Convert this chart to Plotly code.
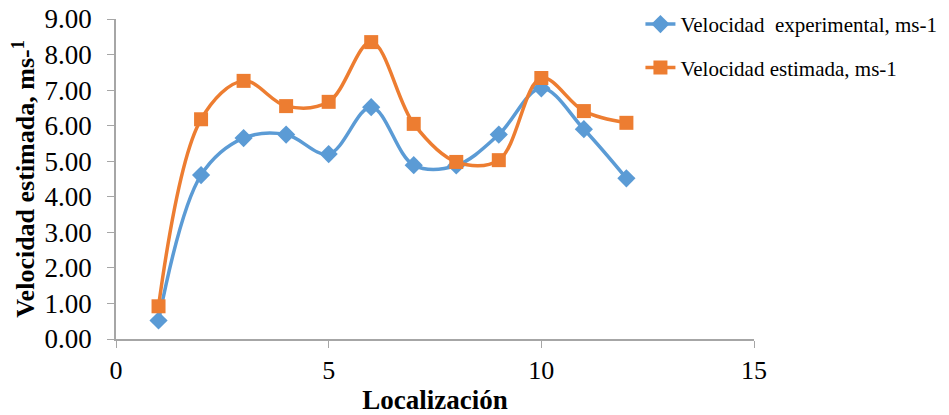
import plotly.graph_objects as go

localizacion = [1, 2, 3, 4, 5, 6, 7, 8, 9, 10, 11, 12]
vel_experimental = [0.52, 4.61, 5.65, 5.75, 5.20, 6.52, 4.89, 4.88, 5.75, 7.05, 5.90, 4.52]
vel_estimada = [0.92, 6.18, 7.26, 6.55, 6.67, 8.35, 6.05, 4.98, 5.03, 7.34, 6.41, 6.08]

x_ticks = [0, 5, 10, 15]
y_ticks = [0, 1, 2, 3, 4, 5, 6, 7, 8, 9]

BLUE = "#5B9BD5"
ORANGE = "#ED7D31"
FONT = "Liberation Serif, Times New Roman, serif"

fig = go.Figure()
fig.add_trace(go.Scatter(
    x=localizacion, y=vel_experimental, mode="lines+markers",
    name="Velocidad  experimental, ms-1", legendgroup="a",
    line=dict(color=BLUE, width=3.5, shape="spline", smoothing=1.0),
    marker=dict(symbol="diamond", size=14, color=BLUE),
))
fig.add_trace(go.Scatter(
    x=localizacion, y=vel_estimada, mode="lines+markers",
    name="Velocidad estimada, ms-1", legendgroup="b",
    line=dict(color=ORANGE, width=3.5, shape="spline", smoothing=1.0),
    marker=dict(symbol="square", size=14, color=ORANGE),
))

fig.update_layout(
    width=949, height=415,
    margin=dict(l=116, r=195, t=19, b=76, autoexpand=False),
    paper_bgcolor="white", plot_bgcolor="white",
    font=dict(family=FONT, color="black", size=18),
    legend=dict(
        x=0.822, y=1.047, xanchor="left", yanchor="top",
        font=dict(family=FONT, size=21, color="black"),
        traceorder="grouped", tracegroupgap=13,
        bgcolor="rgba(0,0,0,0)",
    ),
    xaxis=dict(
        range=[0, 15], tickvals=x_ticks, ticktext=[str(v) for v in x_ticks],
        showgrid=False, zeroline=False, showline=True, automargin=False,
        linecolor="#A6A6A6", linewidth=1.5,
        ticks="outside", ticklen=7, tickcolor="#A6A6A6",
        tickfont=dict(family=FONT, size=26, color="black"),
        title=dict(text="<b>Localización</b>", font=dict(family=FONT, size=27, color="black"), standoff=9),
    ),
    yaxis=dict(
        range=[0, 9], tickvals=y_ticks, ticktext=["%.2f" % v for v in y_ticks],
        showgrid=False, zeroline=False, showline=True, automargin=False,
        linecolor="#A6A6A6", linewidth=1.5,
        ticks="outside", ticklen=7, tickcolor="#A6A6A6", ticklabelstandoff=10,
        tickfont=dict(family=FONT, size=27, color="black"),
        title=dict(text="<b>Velocidad estimada, ms-<sup>1</sup></b>", font=dict(family=FONT, size=26, color="black"), standoff=2),
    ),
)

fig.write_html("out.html")
